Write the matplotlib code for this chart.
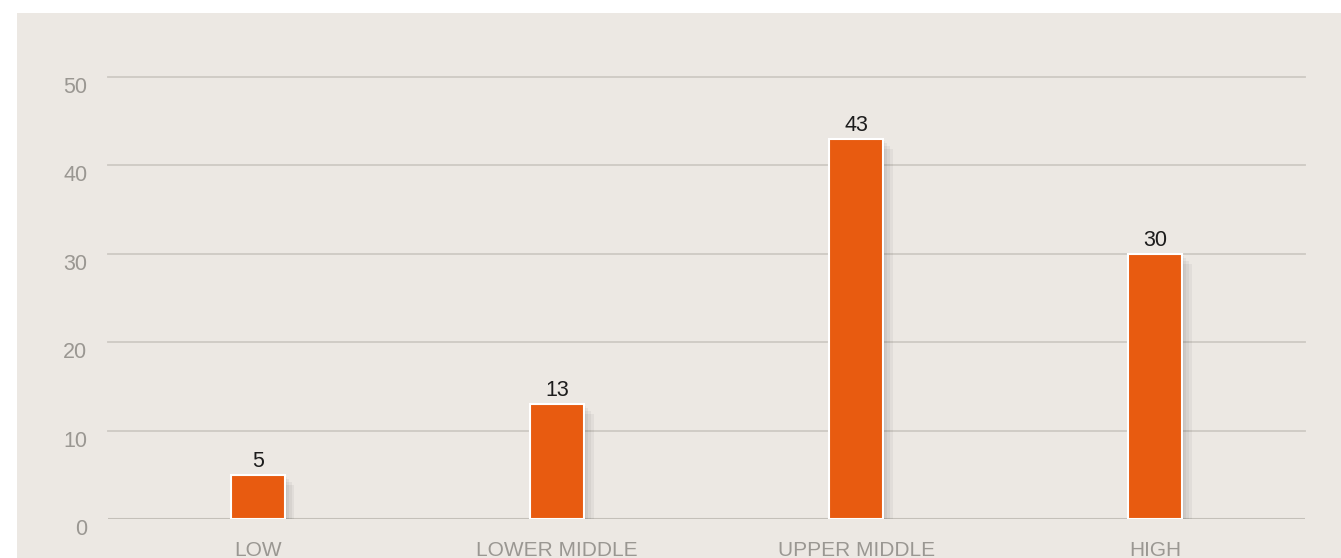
import matplotlib
matplotlib.use("Agg")
import matplotlib.pyplot as plt
import matplotlib.patheffects as pe

categories = ["LOW", "LOWER MIDDLE", "UPPER MIDDLE", "HIGH"]
values = [5, 13, 43, 30]
yticks = [0, 10, 20, 30, 40, 50]

bg = "#ECE8E3"
bar_col = "#E85B10"
grid_col = "#CDC9C3"
tick_col = "#9A9792"
fam = ["Liberation Sans Narrow", "Liberation Sans", "DejaVu Sans"]

W, H = 1341, 558
fig = plt.figure(figsize=(W/100, H/100), dpi=100)
fig.patch.set_facecolor("white")

# beige panel behind the chart
panel = fig.add_axes([17/W, 0, 1-17/W, 1-13/H], zorder=-1)
panel.set_facecolor(bg)
panel.set_xticks([])
panel.set_yticks([])
for s in panel.spines.values():
    s.set_visible(False)

ax = fig.add_axes([108/W, 39/H, (1305-108)/W, (519-77)/H])
ax.set_facecolor("none")
ax.set_xlim(-0.5, 3.5)
ax.set_ylim(0, 50)

for y in yticks[1:]:
    ax.axhline(y, color=grid_col, lw=1.3, zorder=1, clip_on=False)
ax.axhline(0, color="#C4C0B9", lw=2.2, zorder=1)

x = range(len(categories))
bars = ax.bar(x, values, width=0.18, color=bar_col, edgecolor="white", linewidth=1.5, zorder=3)
# soft shadow, a few faint layers
shadow = [pe.SimplePatchShadow(offset=(o, -o), shadow_rgbFace="black", alpha=0.045)
          for o in (7, 5, 3, 1.5)]
for b in bars:
    b.set_path_effects(shadow + [pe.Normal()])

for xi, v in zip(x, values):
    ax.text(xi, v + 0.3, str(v), ha="center", va="bottom", fontsize=15.5,
            color="#1c1c1c", family=fam)

ax.set_yticks(yticks)
ax.set_yticklabels([str(t) for t in yticks], family=fam, fontsize=15.5, color=tick_col)
for lab in ax.get_yticklabels():
    lab.set_verticalalignment("top")
ax.set_xticks(list(x))
ax.set_xticklabels(categories, family=fam, fontsize=15, color=tick_col)
ax.tick_params(axis="y", length=0, pad=15)
ax.tick_params(axis="x", length=0, pad=16)
for s in ax.spines.values():
    s.set_visible(False)

fig.savefig("out.png", dpi=100, facecolor=fig.get_facecolor())
